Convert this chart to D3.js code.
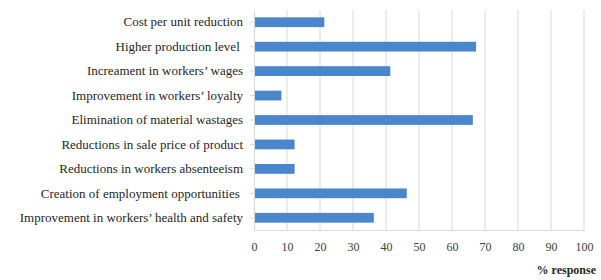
<!DOCTYPE html>
<html>
<head>
<meta charset="utf-8">
<script src="https://cdn.jsdelivr.net/npm/d3@7/dist/d3.min.js"></script>
<style>
  body { margin: 0; background: #fff; }
  svg { display: block; }
  text { font-family: 'Liberation Serif', 'Times New Roman', 'DejaVu Serif', serif; }
</style>
</head>
<body>
<div id="chart"></div>
<script>
const categories = [
  'Cost per unit reduction',
  'Higher production level\u00a0',
  'Increament in workers\u2019 wages',
  'Improvement in workers\u2019 loyalty',
  'Elimination of material wastages',
  'Reductions in sale price of product',
  'Reductions in workers absenteeism',
  'Creation of employment opportunities\u00a0',
  'Improvement in workers\u2019 health and safety'
];
const responses = [21, 67, 41, 8, 66, 12, 12, 46, 36];
const xTicks = [0, 10, 20, 30, 40, 50, 60, 70, 80, 90, 100];
const xTitle = '% response';

const serif = "'Liberation Serif', 'Times New Roman', serif";
const width = 601, height = 280;
const margin = { top: 10, right: 17, bottom: 50, left: 254 };

const svg = d3.select('#chart').append('svg')
  .attr('width', width)
  .attr('height', height);

const x = d3.scaleLinear()
  .domain([0, 100])
  .range([margin.left, width - margin.right]);

const y = d3.scaleBand()
  .domain(categories)
  .range([margin.top, height - margin.bottom])
  .paddingInner(0.6)
  .paddingOuter(0.3);

// grid
svg.append('g')
  .selectAll('line')
  .data(xTicks.slice(1))
  .join('line')
  .attr('x1', d => x(d)).attr('x2', d => x(d))
  .attr('y1', margin.top).attr('y2', height - margin.bottom)
  .attr('stroke', '#d9d9d9')
  .attr('stroke-width', 1);

// bottom axis
svg.append('g')
  .attr('transform', `translate(0, ${height - margin.bottom})`)
  .attr('font-family', serif)
  .call(d3.axisBottom(x).tickValues(xTicks).tickSize(0).tickPadding(12))
  .call(g => g.select('.domain').attr('stroke', '#d9d9d9'))
  .selectAll('text')
  .attr('font-size', 12)
  .attr('fill', '#404040');

// left axis
svg.append('g')
  .attr('transform', `translate(${margin.left}, 0)`)
  .attr('font-family', serif)
  .call(d3.axisLeft(y).tickSize(4).tickPadding(7).tickSizeOuter(0))
  .call(g => g.select('.domain').attr('stroke', '#d9d9d9'))
  .call(g => g.selectAll('.tick line').attr('stroke', '#d9d9d9'))
  .selectAll('text')
  .attr('font-size', 13)
  .attr('fill', '#262626');

// bars
svg.append('g')
  .attr('fill', '#4a86cb')
  .selectAll('rect')
  .data(responses)
  .join('rect')
  .attr('x', x(0) + 1)
  .attr('y', (d, i) => y(categories[i]))
  .attr('width', d => x(d) - x(0))
  .attr('height', y.bandwidth());

// x title
svg.append('text')
  .attr('x', width - 5)
  .attr('y', 274)
  .attr('text-anchor', 'end')
  .attr('font-size', 12)
  .attr('font-weight', 'bold')
  .attr('fill', '#262626')
  .text(xTitle);
</script>
</body>
</html>
